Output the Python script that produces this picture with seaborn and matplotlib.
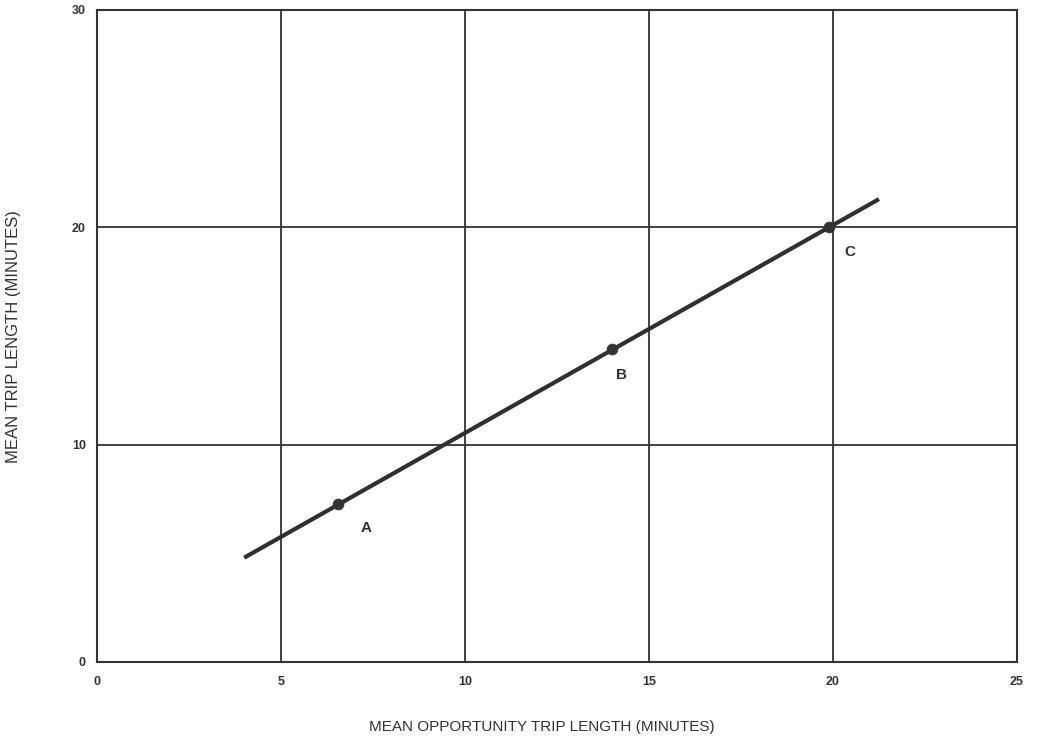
import matplotlib
matplotlib.use("Agg")
import matplotlib.pyplot as plt
import seaborn as sns
import pandas as pd

# Data
line_x = [4.0, 21.25]
line_y = [4.8, 21.3]
point_labels = ["A", "B", "C"]
point_x = [6.55, 14.0, 19.9]
point_y = [7.25, 14.4, 20.0]
label_x = [7.3, 14.25, 20.45]
label_y = [6.15, 13.2, 18.85]
x_ticks = [0, 5, 10, 15, 20, 25]
y_ticks = [0, 10, 20, 30]

sns.set_theme(style="white")
plt.rcParams['font.family'] = ['Liberation Sans', 'DejaVu Sans']

fig = plt.figure(figsize=(10.37, 7.41), dpi=100)
ax = fig.add_axes([97/1037, 79/741, 920/1037, 652/741])

line_df = pd.DataFrame({"x": line_x, "y": line_y})
pts_df = pd.DataFrame({"x": point_x, "y": point_y, "label": point_labels})

sns.lineplot(data=line_df, x="x", y="y", ax=ax, color="#2f2f2f", linewidth=3.0,
             solid_capstyle="butt", zorder=3)
sns.scatterplot(data=pts_df, x="x", y="y", ax=ax, color="#333333", s=60,
                edgecolor="#333333", zorder=4, legend=False)
for lab, lx, ly in zip(point_labels, label_x, label_y):
    ax.text(lx, ly, lab, fontsize=11, fontweight="bold", color="#333333",
            ha="center", va="center")

ax.set_xlim(0, 25)
ax.set_ylim(0, 30)
ax.set_xticks(x_ticks)
ax.set_yticks(y_ticks)
ax.set_xticklabels([str(t) for t in x_ticks])
ax.set_yticklabels([str(t) for t in y_ticks])
ax.tick_params(axis="both", length=0, labelsize=9, colors="#333333")
for lbl in ax.get_xticklabels() + ax.get_yticklabels():
    lbl.set_fontweight("bold")
ax.tick_params(axis="x", pad=10)
ax.tick_params(axis="y", pad=8)

ax.grid(True, color="#333333", linewidth=1.3)
for s in ax.spines.values():
    s.set_color("#333333")
    s.set_linewidth(1.5)

ax.set_xlabel("MEAN OPPORTUNITY TRIP LENGTH (MINUTES)", fontsize=11,
              color="#333333", va="center")
ax.xaxis.set_label_coords((542 - 97) / 920, (662 - 727) / 652)
ax.set_ylabel("MEAN TRIP LENGTH (MINUTES)", fontsize=12, color="#333333",
              va="center")
ax.yaxis.set_label_coords((14 - 97) / 920, (662 - 337) / 652)

fig.savefig("out.png", dpi=100, facecolor="white")
